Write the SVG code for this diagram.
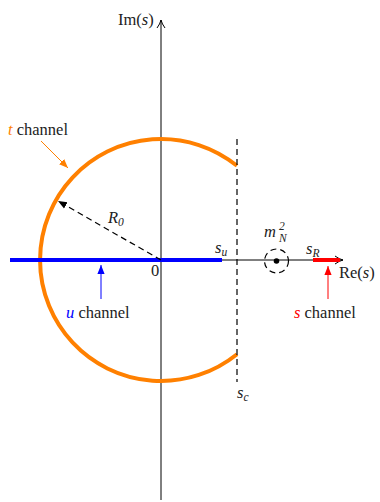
<svg xmlns="http://www.w3.org/2000/svg" width="380" height="502" viewBox="0 0 380 502">
<style>
.t{font-family:'Liberation Serif','DejaVu Serif',serif;font-size:16.5px;fill:#222}
.m{font-style:italic}
.sub{font-size:11.5px;font-style:italic}
.ax{stroke:#000;stroke-width:1;fill:none}
.dash{stroke:#000;stroke-width:1.2;stroke-dasharray:6,4;fill:none}
</style>
<defs>
<marker id="open" viewBox="0 0 10 10" refX="9" refY="5" markerWidth="10" markerHeight="10" markerUnits="userSpaceOnUse" orient="auto">
<path d="M1,1 Q5,4 9,5 Q5,6 1,9" fill="none" stroke="#000" stroke-width="1"/>
</marker>
<marker id="tb" viewBox="0 0 10 10" refX="10" refY="5" markerWidth="9" markerHeight="9" markerUnits="userSpaceOnUse" orient="auto">
<path d="M0,1 L10,5 L0,9 Z" fill="#000"/>
</marker>
<marker id="tblue" viewBox="0 0 10 10" refX="10" refY="5" markerWidth="9" markerHeight="9" markerUnits="userSpaceOnUse" orient="auto">
<path d="M0,1 L10,5 L0,9 Z" fill="#00f"/>
</marker>
<marker id="tred" viewBox="0 0 10 10" refX="10" refY="5" markerWidth="9" markerHeight="9" markerUnits="userSpaceOnUse" orient="auto">
<path d="M0,1 L10,5 L0,9 Z" fill="#f00"/>
</marker>
<marker id="tor" viewBox="0 0 10 10" refX="10" refY="5" markerWidth="9" markerHeight="9" markerUnits="userSpaceOnUse" orient="auto">
<path d="M0,1 L10,5 L0,9 Z" fill="#ff8000"/>
</marker>
</defs>
<g id="axes">
<line class="ax" x1="161" y1="500" x2="161" y2="20" marker-end="url(#open)"/>
<line class="ax" x1="10" y1="260" x2="343" y2="260" marker-end="url(#open)"/>
</g>
<g id="circle">
<path d="M237,165.8 A121,121 0 1 0 237,354.2" fill="none" stroke="#ff8000" stroke-width="4"/>
</g>
<g id="cut">
<line class="dash" x1="237" y1="139" x2="237" y2="382"/>
</g>
<g id="u-cut">
<line x1="10" y1="260" x2="222" y2="260" stroke="#00f" stroke-width="4"/>
</g>
<g id="s-cut">
<line x1="313" y1="260" x2="340" y2="260" stroke="#f00" stroke-width="4"/>
</g>
<g id="pole">
<circle cx="276.5" cy="261" r="12" class="dash" stroke-dasharray="5,4"/>
<circle cx="276.5" cy="261" r="2.8" fill="#000"/>
</g>
<g id="connectors">
<line class="dash" x1="161" y1="260" x2="58" y2="201" marker-end="url(#tb)"/>
<line x1="101" y1="299" x2="101" y2="265" stroke="#00f" stroke-width="1" marker-end="url(#tblue)"/>
<line x1="328" y1="299" x2="328" y2="266" stroke="#f00" stroke-width="1" marker-end="url(#tred)"/>
<line x1="41" y1="141" x2="68" y2="168" stroke="#ff8000" stroke-width="1" marker-end="url(#tor)"/>
</g>
<g id="labels" font-family="Liberation Serif, DejaVu Serif, serif">
<text class="t" x="118" y="25">Im(<tspan class="m">s</tspan>)</text>
<text class="t" x="339" y="278">Re(<tspan class="m">s</tspan>)</text>
<text class="t" x="151" y="276">0</text>
<text class="t m" x="108" y="223">R<tspan class="sub" font-style="normal" dy="3">0</tspan></text>
<text class="t m" x="215" y="253">s<tspan class="sub" dy="3">u</tspan></text>
<text class="t m" x="306" y="254">s<tspan class="sub" dy="3">R</tspan></text>
<text class="t m" x="264" y="237">m</text>
<text class="t sub" x="279" y="230" font-style="normal">2</text>
<text class="t sub" x="279" y="242">N</text>
<text class="t m" x="237" y="398">s<tspan class="sub" dy="3">c</tspan></text>
<text class="t" x="8" y="135"><tspan class="m" fill="#ff8000">t</tspan> channel</text>
<text class="t" x="66" y="318"><tspan class="m" fill="#00f">u</tspan> channel</text>
<text class="t" x="294" y="318"><tspan class="m" fill="#f00">s</tspan> channel</text>
</g>
</svg>
